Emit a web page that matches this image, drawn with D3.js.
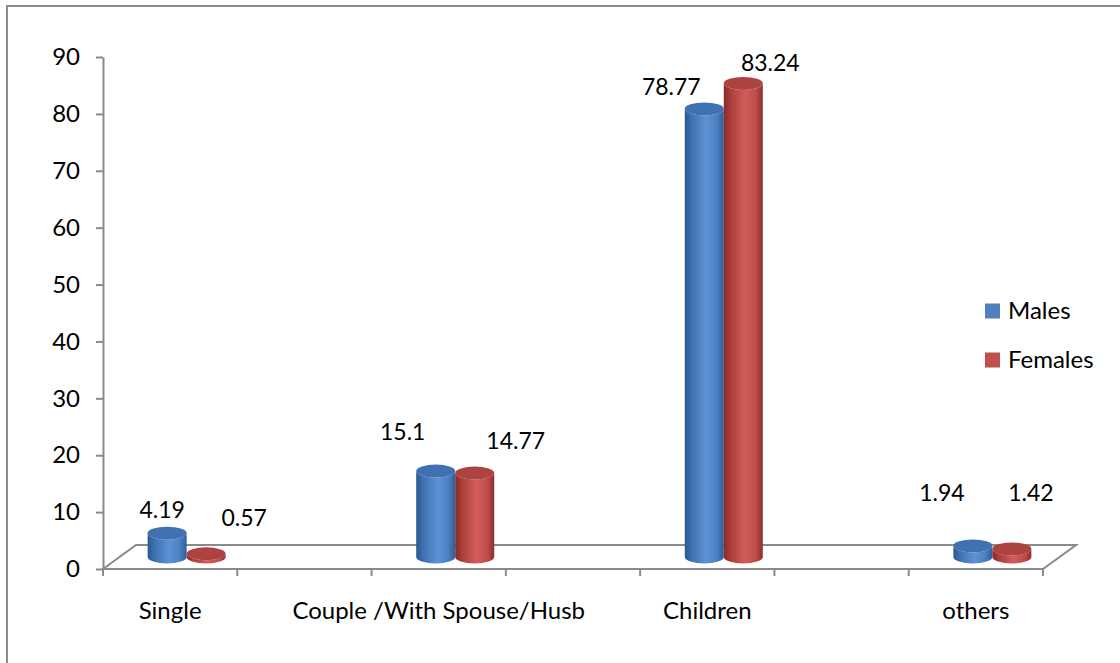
<!DOCTYPE html>
<html>
<head>
<meta charset="utf-8">
<script src="https://cdn.jsdelivr.net/npm/d3@7"></script>
<style>
  html, body { margin: 0; padding: 0; background: #fff; }
  svg { display: block; }
  text { font-family: Lato, "Open Sans", "Liberation Sans", sans-serif; fill: #000; }
</style>
</head>
<body>
<svg id="chart" width="1120" height="663"></svg>
<script>
// Living arrangement by sex (%)
const categories = ["Single", "Couple /With Spouse/Husb", "Children", "others"];
const males   = [4.19, 15.1, 78.77, 1.94];
const females = [0.57, 14.77, 83.24, 1.42];
const seriesNames = ["Males", "Females"];
const yTicks = [0, 10, 20, 30, 40, 50, 60, 70, 80, 90];

// value-label nudges relative to each cylinder's top centre
const maleLabelNudge   = [[-5, -23], [-33, -39], [-33, -22], [-31, -53]];
const femaleLabelNudge = [[38, -36], [41, -32], [27, -21], [19, -56]];

const svg = d3.select("#chart");

// chart frame
svg.append("rect")
  .attr("x", 7).attr("y", 6).attr("width", 1130).attr("height", 680)
  .attr("fill", "none").attr("stroke", "#8c8c8c").attr("stroke-width", 2);

const plotLeft = 103, plotRight = 1043, plotBottom = 569, plotTop = 57;
const depthX = 33, depthY = -24;     // full floor depth offset
const barW = 39, ry = 6.5;

const y = d3.scaleLinear().domain([0, 90]).range([plotBottom, plotTop]);
const x = d3.scalePoint().domain(categories).range([plotLeft, plotRight]).padding(0.25);
const step = x.step();

const axisColor = "#8a8a8a";

// floor
const floor = [
  [plotLeft, plotBottom], [plotRight, plotBottom],
  [plotRight + depthX, plotBottom + depthY], [plotLeft + depthX, plotBottom + depthY]
];
svg.append("path")
  .attr("d", d3.line()(floor) + "Z")
  .attr("fill", "none").attr("stroke", axisColor).attr("stroke-width", 2);

// value axis
const yAxis = svg.append("g").attr("transform", `translate(${plotLeft},0)`)
  .call(d3.axisLeft(y).tickValues(yTicks).tickSize(7).tickSizeOuter(0).tickPadding(16));
yAxis.select(".domain").attr("stroke", axisColor).attr("stroke-width", 2);
yAxis.selectAll(".tick line").attr("stroke", axisColor).attr("stroke-width", 2);
yAxis.selectAll(".tick text")
  .attr("font-size", 24).attr("font-family", null).attr("fill", "#000");

// category axis: ticks at a quarter step either side of each category
const catTicks = [];
categories.forEach(c => { catTicks.push(x(c) - step / 4, x(c) + step / 4); });
svg.append("g").selectAll("line").data(catTicks).join("line")
  .attr("x1", d => d).attr("x2", d => d)
  .attr("y1", plotBottom).attr("y2", plotBottom + 7)
  .attr("stroke", axisColor).attr("stroke-width", 2);

svg.append("g").selectAll("text").data(categories).join("text")
  .attr("x", d => x(d)).attr("y", 611).attr("dy", "0.35em")
  .attr("text-anchor", "middle").attr("font-size", 24)
  .text(d => d);

// gradients for cylinder bodies
const defs = svg.append("defs");
const palettes = {
  Males:   { swatch: "#4f81bd", stops: ["#2b5790", "#3f71b0", "#5d92d4", "#4c80c2", "#2e5d99"], topFill: "#4072b2" },
  Females: { swatch: "#c0504d", stops: ["#872a28", "#ab3f3c", "#d35c58", "#bf4d4a", "#8b2e2c"], topFill: "#ad4340" }
};
const offsets = [0, 0.18, 0.55, 0.82, 1];
seriesNames.forEach(name => {
  const g = defs.append("linearGradient").attr("id", "grad-" + name)
    .attr("x1", 0).attr("x2", 1).attr("y1", 0).attr("y2", 0);
  palettes[name].stops.forEach((c, i) =>
    g.append("stop").attr("offset", offsets[i]).attr("stop-color", c));
});

const midX = depthX / 2, midY = depthY / 2;

function cylinder(g, cx, value, name) {
  const rx = barW / 2;
  const yBase = y(0) + midY;
  const yTop = y(value) + midY;
  const body = `M${cx - rx},${yTop} L${cx - rx},${yBase} ` +
    `A${rx},${ry} 0 0 0 ${cx + rx},${yBase} L${cx + rx},${yTop} ` +
    `A${rx},${ry} 0 0 1 ${cx - rx},${yTop} Z`;
  g.append("path").attr("d", body).attr("fill", `url(#grad-${name})`);
  g.append("ellipse")
    .attr("cx", cx).attr("cy", yTop).attr("rx", rx).attr("ry", ry)
    .attr("fill", palettes[name].topFill);
  return { cx, yTop };
}

const bars = svg.append("g");
const labels = svg.append("g");
categories.forEach((c, i) => {
  const center = x(c) + midX;
  const m = cylinder(bars, center - barW / 2, males[i], "Males");
  const f = cylinder(bars, center + barW / 2, females[i], "Females");
  labels.append("text")
    .attr("x", m.cx + maleLabelNudge[i][0]).attr("y", m.yTop + maleLabelNudge[i][1])
    .attr("dy", "0.35em").attr("text-anchor", "middle").attr("font-size", 23)
    .text(males[i]);
  labels.append("text")
    .attr("x", f.cx + femaleLabelNudge[i][0]).attr("y", f.yTop + femaleLabelNudge[i][1])
    .attr("dy", "0.35em").attr("text-anchor", "middle").attr("font-size", 23)
    .text(females[i]);
});

// legend
const legend = svg.append("g");
seriesNames.forEach((name, i) => {
  const ly = 311 + i * 49;
  legend.append("rect")
    .attr("x", 985).attr("y", ly - 7.5).attr("width", 15).attr("height", 15)
    .attr("fill", palettes[name].swatch);
  legend.append("text")
    .attr("x", 1008).attr("y", ly).attr("dy", "0.35em").attr("font-size", 24)
    .text(name);
});
</script>
</body>
</html>
